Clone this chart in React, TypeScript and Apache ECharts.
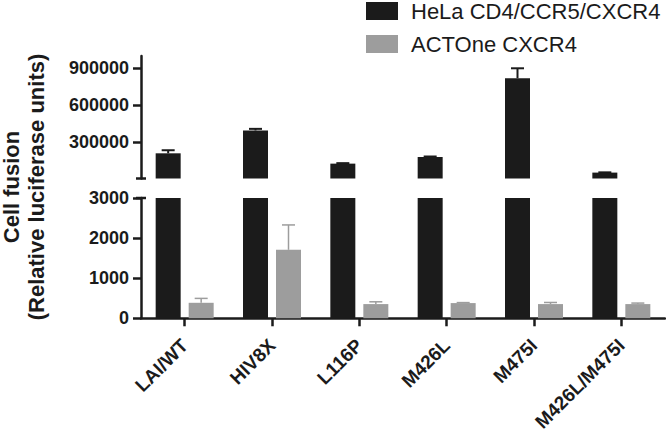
import React, { useEffect, useRef } from "react";
import * as echarts from "echarts";

const categories = ["LAI/WT", "HIV8X", "L116P", "M426L", "M475I", "M426L/M475I"];
const helaName = "HeLa CD4/CCR5/CXCR4";
const actoneName = "ACTOne CXCR4";
const helaValues = [208000, 394000, 124000, 178000, 819000, 51000];
const helaErrors = [25000, 13000, 4000, 4000, 81000, 2000];
const actoneValues = [386, 1708, 354, 379, 354, 354];
const actoneErrors = [110, 620, 57, 12, 40, 25];
const upperTicks = [300000, 600000, 900000];
const lowerTicks = [0, 1000, 2000, 3000];

const BLACK = "#1b1b1b";
const GREY = "#9d9d9d";
const FONT = "Liberation Sans, Arial, sans-serif";

function errorSeries(name: string, xIdx: number, values: number[], errs: number[], offset: number, color: string, lw: number) {
  return {
    type: "custom",
    name,
    xAxisIndex: xIdx,
    yAxisIndex: xIdx,
    z: 1,
    data: values.map((v, i) => [i, v, errs[i]]),
    renderItem: (params: any, api: any) => {
      const i = api.value(0);
      const v = api.value(1);
      const e = api.value(2);
      const base = api.coord([i, v]);
      const top = api.coord([i, v + e]);
      const x = base[0] + offset;
      const style = { stroke: color, lineWidth: lw };
      return {
        type: "group",
        children: [
          { type: "line", shape: { x1: x, y1: base[1], x2: x, y2: top[1] }, style },
          { type: "line", shape: { x1: x - 6.5, y1: top[1], x2: x + 6.5, y2: top[1] }, style },
        ],
      };
    },
  };
}

export default function App() {
  const ref = useRef<HTMLDivElement>(null);
  useEffect(() => {
    if (!ref.current) return;
    const chart = echarts.init(ref.current, null, { renderer: "svg" });
    const axisLine = { show: true, lineStyle: { color: BLACK, width: 2.5 } };
    const yLabel = {
      color: BLACK,
      fontSize: 18,
      fontWeight: "bold",
      fontFamily: FONT,
      margin: 12,
      formatter: (v: number) => String(v),
    };
    chart.setOption({
      animation: false,
      backgroundColor: "#ffffff",
      legend: {
        orient: "vertical",
        left: 366,
        top: 0,
        padding: 0,
        itemWidth: 32,
        itemHeight: 18,
        itemGap: 11,
        icon: "rect",
        data: [helaName, actoneName],
        textStyle: { color: BLACK, fontSize: 22, fontFamily: FONT, padding: [0, 0, 0, 8] },
      },
      grid: [
        { left: 141, right: 1, top: 56, height: 122.5 },
        { left: 141, right: 1, top: 198, height: 121.5 },
      ],
      xAxis: [
        { gridIndex: 0, type: "category", data: categories, show: false },
        {
          gridIndex: 1,
          type: "category",
          data: categories,
          axisLine,
          axisTick: { show: true, alignWithLabel: true, length: 8, lineStyle: { color: BLACK, width: 2.5 } },
          axisLabel: { rotate: 45, color: BLACK, fontSize: 19, fontWeight: "bold", fontFamily: FONT, margin: 24, interval: 0 },
        },
      ],
      yAxis: [
        {
          gridIndex: 0,
          type: "value",
          min: 3000,
          max: 1000000,
          splitLine: { show: false },
          axisLine,
          axisTick: { show: true, length: 8, customValues: upperTicks, lineStyle: { color: BLACK, width: 2.5 } },
          axisLabel: { ...yLabel, customValues: upperTicks },
        },
        {
          gridIndex: 1,
          type: "value",
          min: 0,
          max: 3000,
          interval: 1000,
          splitLine: { show: false },
          axisLine,
          axisTick: { show: true, length: 8, customValues: lowerTicks, lineStyle: { color: BLACK, width: 2.5 } },
          axisLabel: { ...yLabel, customValues: lowerTicks },
        },
      ],
      graphic: [
        { type: "line", shape: { x1: 136, y1: 178.5, x2: 146, y2: 178.5 }, style: { stroke: BLACK, lineWidth: 2.5 } },
        { type: "line", shape: { x1: 136, y1: 198, x2: 146, y2: 198 }, style: { stroke: BLACK, lineWidth: 2.5 } },
        {
          type: "text",
          x: 24,
          y: 187,
          rotation: Math.PI / 2,
          style: {
            text: "Cell fusion\n(Relative luciferase units)",
            fill: BLACK,
            font: "bold 22px " + FONT,
            align: "center",
            verticalAlign: "middle",
            lineHeight: 24.5,
          },
        },
      ],
      series: [
        { type: "bar", name: helaName, xAxisIndex: 0, yAxisIndex: 0, data: helaValues, barWidth: 25, barGap: "32%", itemStyle: { color: BLACK }, clip: true },
        { type: "bar", name: actoneName, xAxisIndex: 0, yAxisIndex: 0, data: actoneValues, barWidth: 25, barGap: "32%", itemStyle: { color: GREY }, clip: true },
        { type: "bar", name: helaName, xAxisIndex: 1, yAxisIndex: 1, data: helaValues, barWidth: 25, barGap: "32%", itemStyle: { color: BLACK }, clip: true },
        { type: "bar", name: actoneName, xAxisIndex: 1, yAxisIndex: 1, data: actoneValues, barWidth: 25, barGap: "32%", itemStyle: { color: GREY }, clip: true },
        errorSeries("helaErr", 0, helaValues, helaErrors, -16.5, BLACK, 2),
        errorSeries("actoneErr", 1, actoneValues, actoneErrors, 16.5, GREY, 1.5),
      ],
    });
    return () => chart.dispose();
  }, []);
  return <div ref={ref} style={{ width: 666, height: 434, position: "absolute", left: 0, top: 0 }} />;
}
